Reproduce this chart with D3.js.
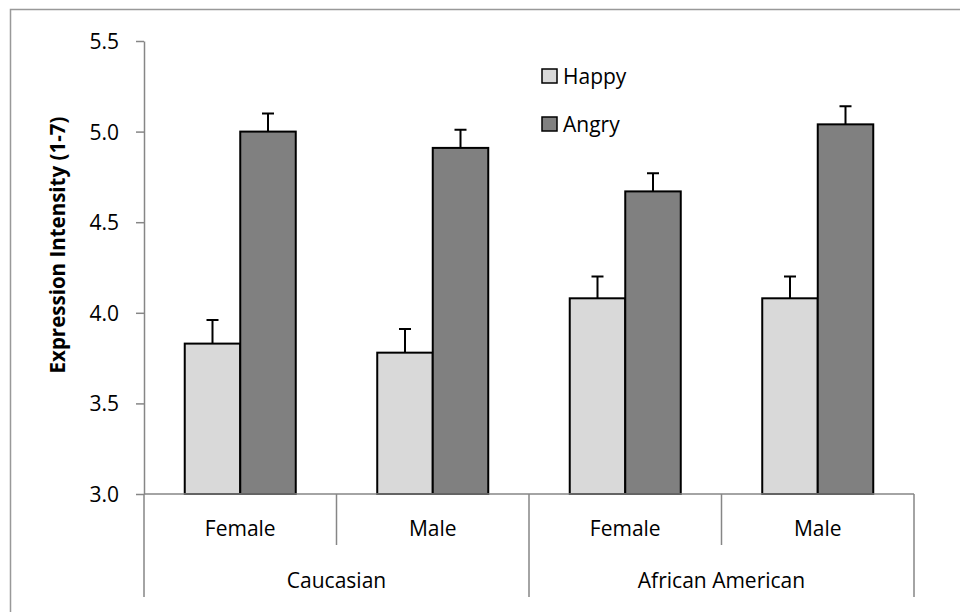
<!DOCTYPE html>
<html>
<head>
<meta charset="utf-8">
<script src="https://cdn.jsdelivr.net/npm/d3@7"></script>
<style>
  body { margin: 0; background: #fff; }
  text { font-family: "Open Sans", sans-serif; fill: #000; }
</style>
</head>
<body>
<div id="chart"></div>
<script>
// data
const groups = ["Caucasian", "African American"];
const genders = ["Female", "Male"];
const series = ["Happy", "Angry"];
const happyValues = [3.83, 3.78, 4.08, 4.08];
const angryValues = [5.00, 4.91, 4.67, 5.04];
const happyErrors = [0.13, 0.13, 0.12, 0.12];
const angryErrors = [0.10, 0.10, 0.10, 0.10];
const yTicks = [3.0, 3.5, 4.0, 4.5, 5.0, 5.5];

const colors = { Happy: "#d9d9d9", Angry: "#808080" };

const svgWidth = 960, svgHeight = 612;
const margin = { top: 41, right: 46, bottom: 118, left: 144 };
const fontSize = "21px";

const svg = d3.select("#chart").append("svg")
    .attr("width", svgWidth)
    .attr("height", svgHeight);

// outer frame (only top and left edges fall inside the picture)
svg.append("rect")
    .attr("x", 10.5).attr("y", 9.5)
    .attr("width", 1000).attr("height", 700)
    .attr("fill", "none")
    .attr("stroke", "#999")
    .attr("stroke-width", 1.5);

const cats = [];
groups.forEach(g => genders.forEach(s => cats.push(g + "|" + s)));

const x = d3.scaleBand()
    .domain(cats)
    .range([margin.left, svgWidth - margin.right]);

const y = d3.scaleLinear()
    .domain([3.0, 5.5])
    .range([svgHeight - margin.bottom, margin.top]);

const xSub = d3.scaleBand()
    .domain(series)
    .range([0, x.bandwidth()])
    .paddingInner(0)
    .paddingOuter(0.734);

const rows = cats.map((c, i) => ({
    cat: c,
    vals: [
        { key: "Happy", v: happyValues[i], e: happyErrors[i] },
        { key: "Angry", v: angryValues[i], e: angryErrors[i] }
    ]
}));

// y axis
const yAxis = svg.append("g")
    .attr("transform", `translate(${margin.left},0)`)
    .call(d3.axisLeft(y).tickValues(yTicks).tickFormat(d3.format(".1f")).tickSize(8).tickSizeOuter(0));
yAxis.select(".domain").attr("stroke", "#868686").attr("stroke-width", 1.5);
yAxis.selectAll(".tick line").attr("stroke", "#868686").attr("stroke-width", 1.5);
yAxis.selectAll(".tick text")
    .attr("x", -25)
    .attr("dy", "0.36em")
    .attr("fill", "#000")
    .style("font-size", fontSize)
    .style("font-family", "Open Sans, sans-serif");

// bars
const barG = svg.append("g")
    .selectAll("g")
    .data(rows)
    .join("g")
    .attr("transform", d => `translate(${x(d.cat)},0)`);

// error bars (upper half only)
barG.selectAll("path.err")
    .data(d => d.vals)
    .join("path")
    .attr("class", "err")
    .attr("fill", "none")
    .attr("stroke", "#000")
    .attr("stroke-width", 2)
    .attr("d", d => {
        const cx = xSub(d.key) + xSub.bandwidth() / 2;
        return `M${cx},${y(d.v)}V${y(d.v + d.e)}M${cx - 6},${y(d.v + d.e)}H${cx + 6}`;
    });

barG.selectAll("rect")
    .data(d => d.vals)
    .join("rect")
    .attr("x", d => xSub(d.key))
    .attr("y", d => y(d.v))
    .attr("width", xSub.bandwidth())
    .attr("height", d => y(3.0) - y(d.v))
    .attr("fill", d => colors[d.key])
    .attr("stroke", "#000")
    .attr("stroke-width", 2);

// x axis line
const y0 = y(3.0);
svg.append("line")
    .attr("x1", margin.left).attr("x2", svgWidth - margin.right)
    .attr("y1", y0).attr("y2", y0)
    .attr("stroke", "#868686").attr("stroke-width", 1.5);

// category dividers
const edges = cats.map(c => x(c)).concat([x.range()[1]]);
svg.append("g")
    .selectAll("line")
    .data(edges)
    .join("line")
    .attr("x1", d => d).attr("x2", d => d)
    .attr("y1", y0)
    .attr("y2", (d, i) => (i % 2 === 0) ? 597 : 545)
    .attr("stroke", "#868686").attr("stroke-width", 1.5);

// gender labels
svg.append("g")
    .selectAll("text")
    .data(cats)
    .join("text")
    .attr("x", d => x(d) + x.bandwidth() / 2)
    .attr("y", 536)
    .attr("text-anchor", "middle")
    .style("font-size", fontSize)
    .text(d => d.split("|")[1]);

// group labels
svg.append("g")
    .selectAll("text")
    .data(groups)
    .join("text")
    .attr("x", g => x(g + "|" + genders[0]) + x.bandwidth())
    .attr("y", 588)
    .attr("text-anchor", "middle")
    .style("font-size", fontSize)
    .text(g => g);

// y axis title
svg.append("text")
    .attr("transform", "translate(65,245) rotate(-90)")
    .attr("text-anchor", "middle")
    .style("font-size", "20.5px")
    .style("font-weight", "bold")
    .text("Expression Intensity (1-7)");

// legend
const legend = svg.append("g")
    .selectAll("g")
    .data(series)
    .join("g")
    .attr("transform", (d, i) => `translate(542,${69 + i * 48})`);
legend.append("rect")
    .attr("width", 15).attr("height", 14)
    .attr("fill", d => colors[d])
    .attr("stroke", "#000")
    .attr("stroke-width", 1.5);
legend.append("text")
    .attr("x", 21)
    .attr("y", 15)
    .style("font-size", fontSize)
    .text(d => d);
</script>
</body>
</html>
